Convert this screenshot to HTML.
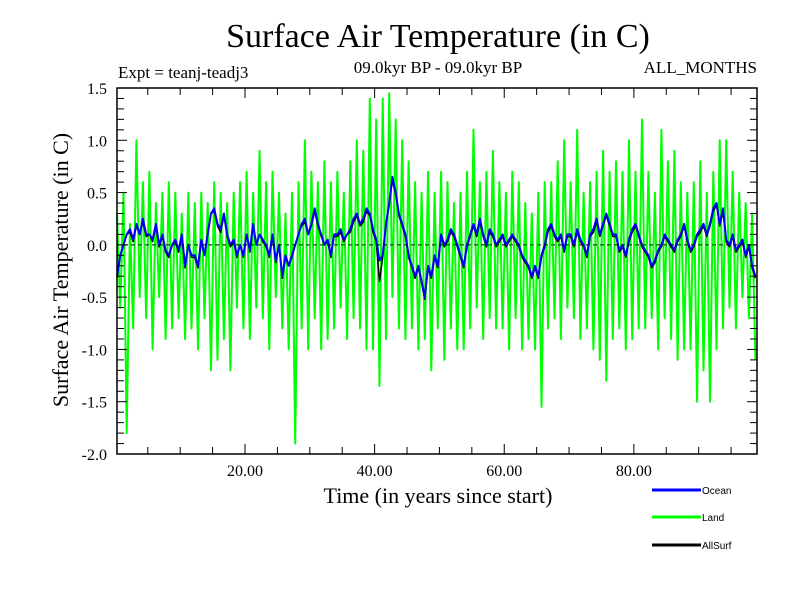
<!DOCTYPE html>
<html><head><meta charset="utf-8"><style>
body{margin:0;background:#fff;width:800px;height:600px;overflow:hidden}
svg{display:block}
.serif{font-family:"Liberation Serif",serif}
</style></head><body>
<svg id="chart" width="800" height="600" xmlns="http://www.w3.org/2000/svg">
<text class="serif" x="438" y="47" font-size="34" text-anchor="middle">Surface Air Temperature (in C)</text>
<text class="serif" x="438" y="73" font-size="17" text-anchor="middle">09.0kyr BP - 09.0kyr BP</text>
<text class="serif" x="118" y="78" font-size="17">Expt = teanj-teadj3</text>
<text class="serif" x="757" y="73" font-size="17" text-anchor="end">ALL_MONTHS</text>
<text class="serif" x="438" y="503" font-size="22" text-anchor="middle">Time (in years since start)</text>
<text class="serif" transform="translate(68,270) rotate(-90)" font-size="22" text-anchor="middle">Surface Air Temperature (in C)</text>
<g id="plot"></g>
<g id="axes"></g>
<g id="legend"></g>
</svg>
<script>
const landHighLow = [0.3,-0.6,0.5,-1.8,0.2,-0.8,1.0,-0.5,0.6,-0.7,0.7,-1.0,0.4,-0.5,0.5,-0.9,0.6,-0.8,0.5,-0.7,
0.3,-0.9,0.5,-0.8,0.4,-1.0,0.5,-0.7,0.4,-1.2,0.6,-1.1,0.5,-0.9,0.4,-1.2,0.5,-0.6,0.6,-0.8,
0.7,-0.9,0.5,-0.6,0.9,-0.7,0.6,-1.0,0.7,-0.5,0.5,-0.8,0.3,-1.0,0.5,-1.9,0.6,-0.8,1.0,-1.0,
0.7,-0.7,0.6,-1.0,0.8,-0.9,0.6,-0.8,0.7,-0.6,0.5,-0.9,0.8,-0.7,1.0,-0.8,0.9,-1.0,1.4,-1.0,
1.2,-1.35,1.4,-0.9,1.45,-0.5,1.2,-0.8,1.0,-0.9,0.8,-0.8,0.6,-1.0,0.5,-0.9,0.7,-1.2,0.5,-0.8,
0.7,-1.1,0.6,-0.8,0.4,-1.0,0.5,-1.0,0.7,-0.8,1.1,-0.6,0.6,-0.9,0.7,-0.7,0.9,-0.8,0.6,-0.8,
0.5,-1.0,0.7,-0.7,0.6,-1.0,0.4,-0.9,0.3,-1.0,0.5,-1.55,0.6,-0.8,0.6,-0.7,0.8,-0.9,1.0,-0.6,
0.6,-0.7,1.1,-0.9,0.5,-0.8,0.6,-1.0,0.7,-1.1,0.9,-1.3,0.7,-0.9,0.8,-0.8,0.7,-1.0,1.0,-0.9,
0.7,-0.8,1.2,-0.8,0.7,-0.7,0.5,-1.0,1.1,-0.7,0.8,-0.9,0.9,-1.1,0.6,-1.0,0.5,-1.0,0.6,-1.5,
0.8,-1.2,0.5,-1.5,0.7,-1.0,1.0,-0.8,1.0,-0.6,0.7,-0.8,0.5,-0.5,0.4,-0.7,0.3,-1.1];
const oceanValues = [-0.3,-0.1,0.0,0.1,0.15,0.05,0.2,0.1,0.25,0.1,0.1,0.05,0.2,0.0,0.1,-0.05,-0.1,0.0,0.05,-0.05,
0.1,-0.2,0.0,-0.1,-0.1,-0.2,0.05,-0.1,0.1,0.3,0.35,0.2,0.15,0.3,0.1,0.0,0.05,-0.1,0.0,-0.1,
0.1,-0.05,0.2,0.0,0.1,0.05,0.0,-0.1,0.1,-0.15,0.0,-0.3,-0.1,-0.2,-0.1,0.0,0.1,0.2,0.25,0.1,
0.2,0.35,0.2,0.1,0.0,0.05,-0.1,0.1,0.1,0.15,0.05,0.1,0.15,0.25,0.3,0.2,0.25,0.35,0.3,0.15,
0.05,-0.15,-0.1,0.2,0.4,0.65,0.5,0.3,0.2,0.1,-0.1,-0.2,-0.3,-0.2,-0.35,-0.5,-0.2,-0.3,-0.1,-0.2,
0.1,0.0,0.05,0.15,0.1,0.0,-0.1,-0.2,0.0,0.1,0.2,0.1,0.25,0.1,0.0,0.15,0.1,0.0,0.05,0.1,
0.0,0.05,0.1,0.05,0.0,-0.1,-0.15,-0.2,-0.3,-0.2,-0.3,-0.1,0.0,0.15,0.2,0.1,0.05,0.1,-0.05,0.1,
0.1,0.0,0.15,0.05,0.0,-0.1,0.1,0.15,0.25,0.1,0.2,0.3,0.2,0.1,0.1,-0.05,0.0,-0.1,0.05,0.15,
0.2,0.1,0.0,-0.05,-0.1,-0.2,-0.15,-0.05,0.0,0.1,0.05,0.0,-0.05,0.05,0.1,0.2,0.05,-0.05,0.0,0.1,
0.15,0.2,0.1,0.2,0.35,0.4,0.2,0.35,0.05,0.0,0.1,-0.05,0.0,0.05,-0.1,0.0,-0.2,-0.3];
const allSurfValues = [-0.32,-0.1,0.0,0.1,0.12,0.03,0.18,0.1,0.22,0.08,0.1,0.03,0.18,-0.02,0.08,-0.07,-0.12,0.0,0.03,-0.07,
0.08,-0.22,0.0,-0.12,-0.12,-0.22,0.03,-0.1,0.12,0.3,0.32,0.18,0.12,0.28,0.08,-0.02,0.03,-0.12,0.0,-0.12,
0.1,-0.07,0.18,0.0,0.1,0.03,-0.02,-0.12,0.08,-0.17,0.0,-0.32,-0.12,-0.2,-0.12,0.0,0.1,0.18,0.22,0.1,
0.18,0.32,0.18,0.08,0.0,0.03,-0.12,0.08,0.08,0.12,0.03,0.1,0.12,0.22,0.28,0.18,0.22,0.32,0.28,0.12,
0.03,-0.35,-0.12,0.18,0.38,0.62,0.48,0.28,0.18,0.08,-0.12,-0.22,-0.32,-0.22,-0.37,-0.52,-0.22,-0.32,-0.12,-0.22,
0.08,-0.02,0.03,0.12,0.08,-0.02,-0.12,-0.22,-0.02,0.08,0.18,0.08,0.22,0.08,-0.02,0.12,0.08,-0.02,0.03,0.08,
-0.02,0.03,0.08,0.03,-0.02,-0.12,-0.17,-0.22,-0.32,-0.22,-0.32,-0.12,-0.02,0.12,0.18,0.08,0.03,0.08,-0.07,0.08,
0.08,-0.02,0.12,0.03,-0.02,-0.12,0.08,0.12,0.22,0.08,0.18,0.28,0.18,0.08,0.08,-0.07,-0.02,-0.12,0.03,0.12,
0.18,0.08,-0.02,-0.07,-0.12,-0.22,-0.17,-0.07,-0.02,0.08,0.03,-0.02,-0.07,0.03,0.08,0.18,0.03,-0.07,-0.02,0.08,
0.12,0.18,0.08,0.18,0.32,0.38,0.18,0.32,0.03,-0.02,0.08,-0.07,-0.02,0.03,-0.12,-0.02,-0.22,-0.32];
const startYear = 0.25, stepYears = 0.5;
const yTickLabels = ["1.5","1.0","0.5","0.0","-0.5","-1.0","-1.5","-2.0"];
const yTickValues = [1.5,1.0,0.5,0.0,-0.5,-1.0,-1.5,-2.0];
const xTickLabels = ["20.00","40.00","60.00","80.00"];
const xTickValues = [20,40,60,80];

const NS="http://www.w3.org/2000/svg";
const L=117,R=757,T=88,B=454, X0=0.25,X1=99.0, Y0=-2.0,Y1=1.5;
const xs=v=>L+(v-X0)/(X1-X0)*(R-L);
const ys=v=>B-(v-Y0)/(Y1-Y0)*(B-T);
function mk(tag,attrs,parent){const e=document.createElementNS(NS,tag);for(const k in attrs)e.setAttribute(k,attrs[k]);parent.appendChild(e);return e;}
const plot=document.getElementById('plot'), axes=document.getElementById('axes'), legend=document.getElementById('legend');

function series(vals,color,w,name){
  const pts=vals.map((v,i)=>xs(Math.min(X1,startYear+i*stepYears)).toFixed(1)+','+ys(v).toFixed(1)).join(' ');
  const p=mk('polyline',{points:pts,fill:'none',stroke:color,'stroke-width':w,'stroke-linejoin':'round'},plot);
  
  
}
const z=mk('line',{x1:L,x2:R,y1:ys(0),y2:ys(0),stroke:'#000','stroke-width':1,'stroke-dasharray':'4,3'},plot);


series(landHighLow,'#00ff00',2,'land-series');
series(allSurfValues,'#000000',1.5,'allsurf-series');
series(oceanValues,'#0000ff',2,'ocean-series');
mk('line',{x1:L,x2:R,y1:ys(0),y2:ys(0),stroke:'#000','stroke-width':0.8,'stroke-dasharray':'4,3'},plot);

const box=mk('rect',{x:L,y:T,width:R-L,height:B-T,fill:'none',stroke:'#000','stroke-width':1.5},axes);


for(let k=0;k<=35;k++){const v=Y0+k*0.1;const y=ys(v);const len=(k%5===0)?10:7;
  mk('line',{x1:L,x2:L+len,y1:y,y2:y,stroke:'#000','stroke-width':1},axes);
  mk('line',{x1:R,x2:R-len,y1:y,y2:y,stroke:'#000','stroke-width':1},axes);}
for(let v=5;v<X1;v+=5){const x=xs(v);const len=(v%20===0)?10:7;
  mk('line',{x1:x,x2:x,y1:B,y2:B-len,stroke:'#000','stroke-width':1},axes);
  mk('line',{x1:x,x2:x,y1:T,y2:T+len,stroke:'#000','stroke-width':1},axes);}
yTickLabels.forEach((lab,i)=>{const t=mk('text',{x:107,y:ys(yTickValues[i])+6,'font-size':16,'text-anchor':'end','class':'serif'},axes);t.textContent=lab;
  
  });
xTickLabels.forEach((lab,i)=>{const t=mk('text',{x:xs(xTickValues[i]),y:476,'font-size':16,'text-anchor':'middle','class':'serif'},axes);t.textContent=lab;
  
  });

[['Ocean','#0000ff',490],['Land','#00ff00',517],['AllSurf','#000000',545]].forEach(([n,c,y])=>{
  const g=mk('g',{},legend);
  
  
  mk('line',{x1:652,x2:701,y1:y,y2:y,stroke:c,'stroke-width':3},g);
  const t=mk('text',{x:702,y:y+4,'font-size':10,'font-family':'Liberation Sans, sans-serif'},g);t.textContent=n;
});
</script>
</body></html>
